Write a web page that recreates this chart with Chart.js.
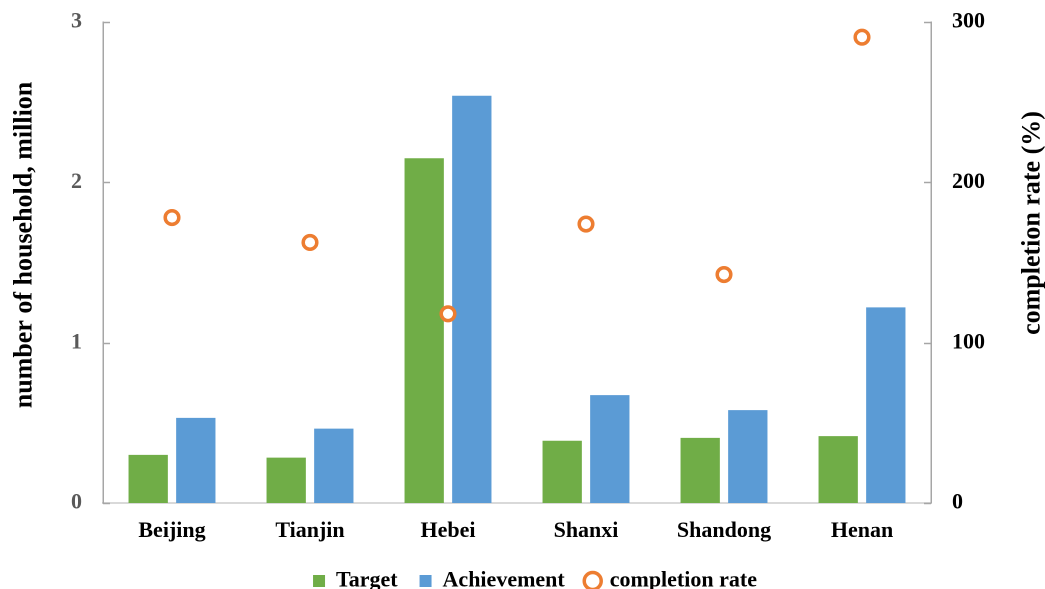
<!DOCTYPE html>
<html><head><meta charset="utf-8">
<script src="https://cdn.jsdelivr.net/npm/chart.js@4"></script>
<style>html,body{margin:0;padding:0;overflow:hidden;background:#fff}#wrap{width:1045px;height:602px;position:relative}</style>
</head><body><div id="wrap"><canvas id="c"></canvas></div>
<script>
const categories = ['Beijing', 'Tianjin', 'Hebei', 'Shanxi', 'Shandong', 'Henan'];
const targetValues = [0.30, 0.283, 2.15, 0.388, 0.406, 0.417];
const achievementValues = [0.531, 0.464, 2.54, 0.673, 0.579, 1.22];
const completionRate = [178, 162.5, 118, 174, 142.5, 290.5];
const leftAxisTitle = 'number of household, million';
const rightAxisTitle = 'completion rate (%)';
const seriesNames = ['Target', 'Achievement', 'completion rate'];

const FONT = '"Liberation Serif", "Times New Roman", serif';

const extras = {
  id: 'extras',
  afterDraw(chart) {
    const {ctx, chartArea} = chart;
    ctx.save();
    ctx.strokeStyle = '#a6a6a6';
    ctx.lineWidth = 1.5;
    ['y', 'y1'].forEach(id => {
      const s = chart.scales[id];
      s.ticks.forEach((t, i) => {
        const py = Math.round(s.getPixelForTick(i)) + 0.5;
        const x0 = id === 'y' ? chartArea.left : chartArea.right;
        const x1 = id === 'y' ? x0 + 7 : x0 - 7;
        ctx.beginPath(); ctx.moveTo(x0, py); ctx.lineTo(x1, py); ctx.stroke();
      });
    });
    ctx.fillStyle = '#000';
    ctx.font = 'bold 26px ' + FONT;
    ctx.textAlign = 'center';
    ctx.textBaseline = 'middle';
    ctx.save();
    ctx.translate(chartArea.left - 78, chartArea.top + 223);
    ctx.rotate(-Math.PI / 2);
    ctx.fillText(leftAxisTitle, 0, 0);
    ctx.restore();
    ctx.save();
    ctx.translate(chartArea.right + 102, chartArea.top + 201);
    ctx.rotate(-Math.PI / 2);
    ctx.fillText(rightAxisTitle, 0, 0);
    ctx.restore();
    ctx.restore();
  }
};

function fitY(width) {
  return function (s) { s.width = width; s.paddingTop = 0; s.paddingBottom = 0; };
}

new Chart(document.getElementById('c'), {
  type: 'bar',
  data: {
    labels: categories,
    datasets: [
      {label: seriesNames[0], data: targetValues, backgroundColor: '#70AD47', yAxisID: 'y', order: 1,
       categoryPercentage: 0.69, barPercentage: 0.826},
      {label: seriesNames[1], data: achievementValues, backgroundColor: '#5B9BD5', yAxisID: 'y', order: 1,
       categoryPercentage: 0.69, barPercentage: 0.826},
      {type: 'line', label: seriesNames[2], data: completionRate, yAxisID: 'y1', order: 0,
       showLine: false, pointStyle: 'circle', pointRadius: 6.8, pointHoverRadius: 6.8,
       pointBorderWidth: 3.5, borderColor: '#ED7D31', backgroundColor: '#ffffff',
       pointBackgroundColor: '#ffffff', pointBorderColor: '#ED7D31'}
    ]
  },
  options: {
    responsive: true,
    maintainAspectRatio: false,
    animation: false,
    devicePixelRatio: 2,
    layout: {padding: {left: 25, right: 0, top: 22, bottom: 0}},
    plugins: {
      tooltip: {enabled: false},
      legend: {
        position: 'bottom',
        labels: {
          usePointStyle: true,
          boxWidth: 12,
          boxHeight: 12,
          padding: 22,
          color: '#000',
          font: {family: FONT, size: 22, weight: 'bold'},
          sort: (a, b) => a.datasetIndex - b.datasetIndex,
          generateLabels(chart) {
            const items = Chart.defaults.plugins.legend.labels.generateLabels(chart);
            items.forEach(it => {
              if (it.datasetIndex < 2) {
                it.pointStyle = 'rect';
                it.lineWidth = 0;
                it.strokeStyle = it.fillStyle;
              } else {
                it.pointStyle = 'circle';
                it.fillStyle = '#ffffff';
                it.strokeStyle = '#ED7D31';
                it.lineWidth = 3.5;
              }
            });
            return items;
          }
        }
      }
    },
    scales: {
      x: {
        grid: {display: false, drawTicks: false},
        border: {display: true, color: '#d9d9d9', width: 2},
        ticks: {color: '#000', padding: 15, font: {family: FONT, size: 22, weight: 'bold'}},
        afterFit(s) { s.height = 45; }
      },
      y: {
        position: 'left',
        min: 0, max: 3,
        grid: {display: false, drawTicks: false},
        border: {display: true, color: '#a6a6a6', width: 1.5},
        ticks: {stepSize: 1, color: '#595959', padding: 21, font: {family: FONT, size: 22, weight: 'bold'}},
        afterFit: fitY(78)
      },
      y1: {
        position: 'right',
        min: 0, max: 300,
        grid: {display: false, drawTicks: false},
        border: {display: true, color: '#a6a6a6', width: 1.5},
        ticks: {stepSize: 100, color: '#000', padding: 21, font: {family: FONT, size: 22, weight: 'bold'}},
        afterFit: fitY(114)
      }
    }
  },
  plugins: [extras]
});
</script>
</body></html>
